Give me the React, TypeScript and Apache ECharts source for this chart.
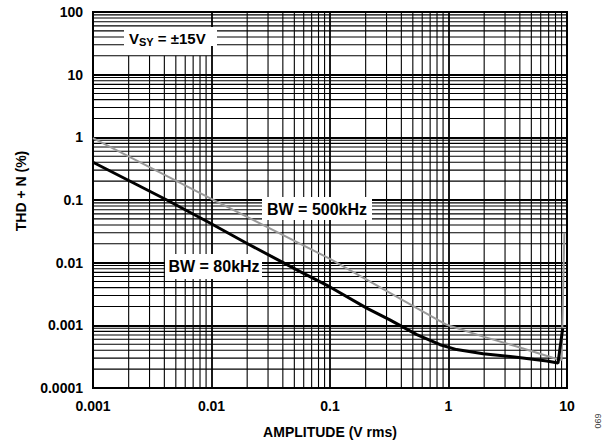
import React, { useEffect, useRef } from 'react';
import * as echarts from 'echarts';

const X_DECADES = [0.001, 0.01, 0.1, 1, 10];
const Y_DECADES = [0.0001, 0.001, 0.01, 0.1, 1, 10, 100];
const MINOR_FACTORS = [2, 3, 4, 5, 6, 7, 8, 9];
// in the first decade the minor verticals stop below the supply label
const FIRST_DECADE_V_TOP = 20;

// BW = 80kHz (black)
const AMP_80K = [0.001, 0.0042, 0.0097, 0.0198, 0.056, 0.1, 0.204, 0.32, 0.54, 0.85, 1.17, 1.96, 3.76, 6.76, 8.4, 9.2];
const THD_80K = [0.4, 0.1, 0.043, 0.0204, 0.0072, 0.0041, 0.00188, 0.00122, 0.00071, 0.00049, 0.00041, 0.000353, 0.00031, 0.00027, 0.00025, 0.0009];

// BW = 500kHz (grey)
const AMP_500K = [0.001, 0.0097, 0.1, 0.54, 0.966, 1.96, 3.76, 8.2, 9.0, 9.5];
const THD_500K = [0.97, 0.107, 0.0115, 0.00188, 0.00102, 0.00066, 0.00046, 0.00029, 0.00028, 0.03];

const FONT = '"Liberation Sans", Arial, sans-serif';

const fmt = (v: number) => String(parseFloat(Number(v).toPrecision(4)));
const p = (v: number) => parseFloat(v.toPrecision(3));

export default function App() {
  const ref = useRef<HTMLDivElement>(null);
  useEffect(() => {
    if (!ref.current) return;
    const chart = echarts.init(ref.current, undefined, { renderer: 'svg' });
    const xMin = X_DECADES[0];
    const xMax = X_DECADES[X_DECADES.length - 1];
    const yMin = Y_DECADES[0];
    const yMax = Y_DECADES[Y_DECADES.length - 1];

    const gridSeries: any[] = [];
    const lineStyle = { color: '#000', width: 1.1 };
    X_DECADES.slice(0, -1).forEach((d, di) => {
      MINOR_FACTORS.forEach((f) => {
        const v = p(d * f);
        gridSeries.push({
          type: 'line',
          z: 1,
          silent: true,
          showSymbol: false,
          lineStyle,
          data: [[v, yMin], [v, di === 0 ? FIRST_DECADE_V_TOP : yMax]],
        });
      });
    });
    Y_DECADES.slice(0, -1).forEach((d) => {
      MINOR_FACTORS.forEach((f) => {
        const v = p(d * f);
        gridSeries.push({
          type: 'line',
          z: 1,
          silent: true,
          showSymbol: false,
          lineStyle,
          data: [[xMin, v], [xMax, v]],
        });
      });
    });

    chart.setOption({
      animation: false,
      backgroundColor: '#fff',
      grid: {
        left: 93,
        right: 46,
        top: 12,
        bottom: 58,
        show: true,
        borderColor: '#000',
        borderWidth: 2,
        containLabel: false,
        outerBoundsMode: 'none',
      },
      xAxis: {
        type: 'log',
        logBase: 10,
        min: xMin,
        max: xMax,
        name: 'AMPLITUDE (V rms)',
        nameLocation: 'middle',
        nameGap: 37,
        nameTextStyle: { fontFamily: FONT, fontWeight: 'bold', fontSize: 14, color: '#000' },
        axisLine: { show: true, lineStyle: { color: '#000', width: 2 } },
        axisTick: { show: false },
        axisLabel: { formatter: fmt, margin: 11, fontFamily: FONT, fontWeight: 'bold', fontSize: 14, color: '#000' },
        splitLine: { show: true, lineStyle: { color: '#000', width: 1.8 } },
      },
      yAxis: {
        type: 'log',
        logBase: 10,
        min: yMin,
        max: yMax,
        axisLine: { show: true, lineStyle: { color: '#000', width: 2 } },
        axisTick: { show: false },
        axisLabel: { formatter: fmt, margin: 10, fontFamily: FONT, fontWeight: 'bold', fontSize: 14, color: '#000' },
        splitLine: { show: true, lineStyle: { color: '#000', width: 1.8 } },
      },
      series: [
        ...gridSeries,
        {
          type: 'line',
          name: 'BW = 500kHz',
          z: 3,
          data: AMP_500K.map((a, i) => [a, THD_500K[i]]),
          showSymbol: false,
          lineStyle: { color: '#9a9a9a', width: 2 },
        },
        {
          type: 'line',
          name: 'BW = 80kHz',
          z: 4,
          data: AMP_80K.map((a, i) => [a, THD_80K[i]]),
          showSymbol: false,
          lineStyle: { color: '#000', width: 3 },
        },
      ],
      graphic: [
        {
          type: 'text',
          z: 101,
          x: 21,
          y: 191,
          rotation: Math.PI / 2,
          style: { text: 'THD + N (%)', textAlign: 'center', textVerticalAlign: 'middle', fontFamily: FONT, fontWeight: 'bold', fontSize: 14, fill: '#000' },
        },
        { type: 'rect', z: 100, shape: { x: 124, y: 27, width: 93, height: 19 }, style: { fill: '#fff' } },
        {
          type: 'text',
          z: 101,
          x: 129,
          y: 38,
          style: {
            text: '{a|V}{b|SY}{a| = ±15V}',
            textVerticalAlign: 'middle',
            rich: {
              a: { fontFamily: FONT, fontWeight: 'bold', fontSize: 15, fill: '#000' },
              b: { fontFamily: FONT, fontWeight: 'bold', fontSize: 11, fill: '#000', padding: [8, 0, 0, 0] },
            },
          },
        },
        { type: 'rect', z: 100, shape: { x: 262, y: 197, width: 110, height: 23 }, style: { fill: '#fff' } },
        {
          type: 'text',
          z: 101,
          x: 317,
          y: 209,
          style: { text: 'BW = 500kHz', textAlign: 'center', textVerticalAlign: 'middle', fontFamily: FONT, fontWeight: 'bold', fontSize: 16, fill: '#000' },
        },
        { type: 'rect', z: 100, shape: { x: 165, y: 254, width: 97, height: 25 }, style: { fill: '#fff' } },
        {
          type: 'text',
          z: 101,
          x: 214,
          y: 266,
          style: { text: 'BW = 80kHz', textAlign: 'center', textVerticalAlign: 'middle', fontFamily: FONT, fontWeight: 'bold', fontSize: 16, fill: '#000' },
        },
        {
          type: 'text',
          z: 101,
          x: 598,
          y: 421,
          rotation: Math.PI / 2,
          style: { text: '069', textAlign: 'center', textVerticalAlign: 'middle', fontFamily: FONT, fontSize: 9, fill: '#444' },
        },
      ],
    });
    return () => chart.dispose();
  }, []);
  return <div ref={ref} style={{ width: 613, height: 446, position: 'absolute', left: 0, top: 0 }} />;
}
